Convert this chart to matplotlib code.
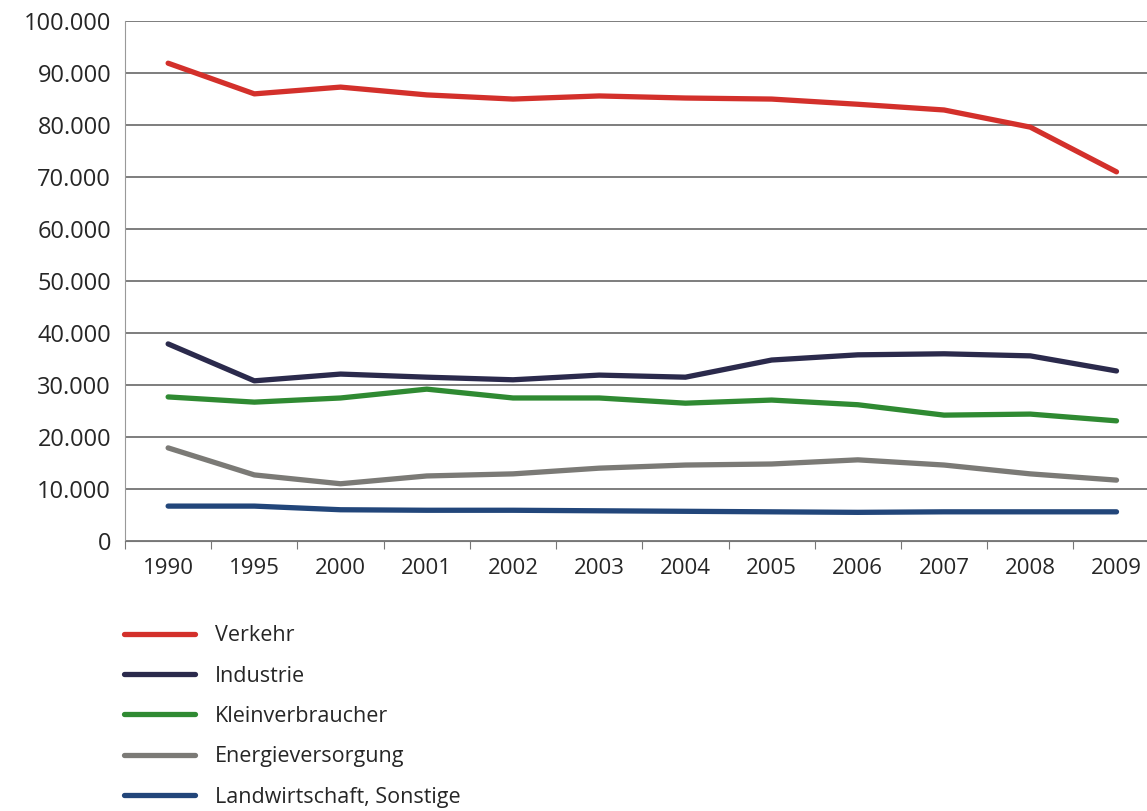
import matplotlib
matplotlib.use("Agg")
import matplotlib.pyplot as plt
from matplotlib.ticker import FuncFormatter
import numpy as np

years = ["1990", "1995", "2000", "2001", "2002", "2003", "2004",
         "2005", "2006", "2007", "2008", "2009"]

verkehr = [91900, 86000, 87300, 85800, 85000, 85600, 85200,
           85000, 84000, 82900, 79600, 71000]
industrie = [37900, 30800, 32100, 31500, 31000, 31900, 31500,
             34800, 35800, 36000, 35600, 32700]
kleinverbraucher = [27700, 26700, 27500, 29200, 27500, 27500, 26500,
                    27100, 26200, 24200, 24400, 23100]
energieversorgung = [17900, 12700, 11000, 12500, 12900, 14000, 14600,
                     14800, 15600, 14600, 12900, 11700]
landwirtschaft = [6700, 6700, 6000, 5900, 5900, 5800, 5700,
                  5600, 5500, 5600, 5600, 5600]

series = [
    ("Verkehr", verkehr, "#d3302b"),
    ("Industrie", industrie, "#2b2a4c"),
    ("Kleinverbraucher", kleinverbraucher, "#2f8a32"),
    ("Energieversorgung", energieversorgung, "#7b7a76"),
    ("Landwirtschaft, Sonstige", landwirtschaft, "#22467a"),
]

plt.rcParams["font.family"] = ["Open Sans", "DejaVu Sans"]
text_color = "#262626"

fig = plt.figure(figsize=(11.47, 8.11), dpi=100)
ax = fig.add_axes([0.109, 0.333, 0.902, 0.641])

x = np.arange(len(years))
for name, values, color in series:
    ax.plot(x, values, color=color, lw=3.8, label=name,
            solid_capstyle="round", solid_joinstyle="round")

ax.set_xlim(-0.5, len(years) - 0.5)
ax.set_ylim(0, 100000)
ax.set_yticks(np.arange(0, 100001, 10000))
ax.yaxis.set_major_formatter(
    FuncFormatter(lambda v, p: f"{int(v):,}".replace(",", ".")))
ax.grid(axis="y", color="#5a5a5a", lw=1.1)
ax.set_axisbelow(True)

# category labels sit between the boundary tick marks
ax.set_xticks(np.arange(-0.5, len(years)), labels=[""] * (len(years) + 1))
ax.set_xticks(x, labels=years, minor=True)
ax.tick_params(axis="x", which="major", length=6, color="#777777", direction="out")
ax.tick_params(axis="x", which="minor", length=0, pad=12,
               labelsize=16, labelcolor=text_color)
ax.tick_params(axis="y", length=0, pad=10, labelsize=17, labelcolor=text_color)

for side in ["top", "right"]:
    ax.spines[side].set_visible(False)
ax.spines["left"].set_color("#999999")
ax.spines["bottom"].set_color("#777777")

handles, labels = ax.get_legend_handles_labels()
fig.legend(handles, labels, loc="upper left", bbox_to_anchor=(0.091, 0.253),
           frameon=False, fontsize=15.5, handlelength=3.3, handletextpad=0.95,
           labelspacing=0.9, labelcolor=text_color)

fig.savefig("out.png", dpi=100)
